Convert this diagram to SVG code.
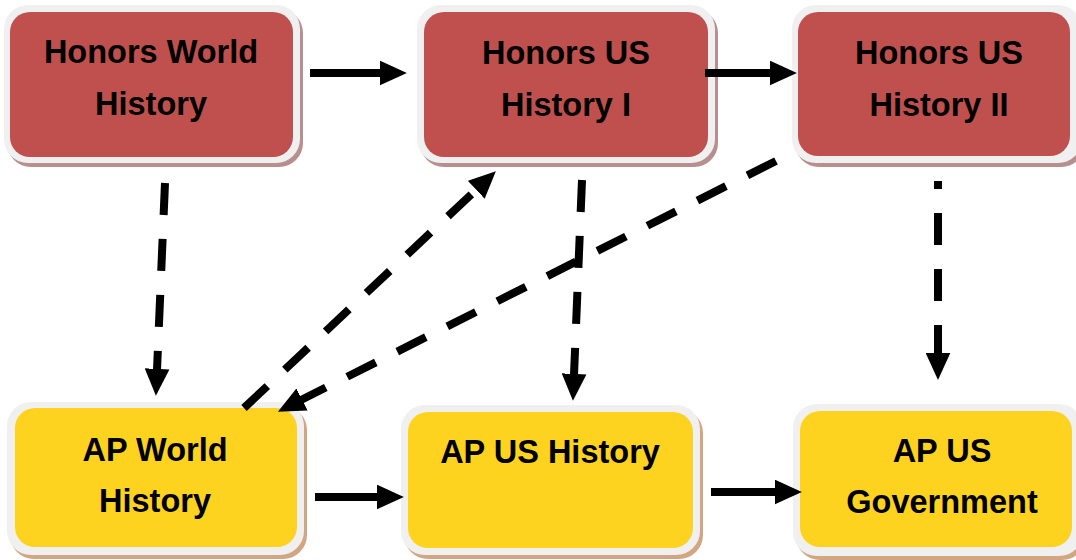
<svg xmlns="http://www.w3.org/2000/svg" width="1076" height="560" viewBox="0 0 1076 560">
<style>
.frame{fill:#f0f0f0}
.shr{fill:#b88f8f}
.shy{fill:#d2a683}
.red{fill:#c0504d}
.yel{fill:#fdd31f}
.t{font-family:"Liberation Sans",Arial,sans-serif;font-weight:bold;font-size:32.5px;fill:#000;text-anchor:middle}
.solid{stroke:#000;stroke-width:8;fill:none}
.dash{stroke:#000;stroke-width:8;fill:none;stroke-dasharray:32 24}
</style>
<defs>
<marker id="ah" markerUnits="userSpaceOnUse" markerWidth="27" markerHeight="25" viewBox="0 0 24 22" refX="1" refY="11" orient="auto">
<path d="M0,0 L24,11 L0,22 z" fill="#000"/>
</marker>
</defs>
<rect width="1076" height="560" fill="#fff"/>
<g id="honors-world">
<rect class="shr" x="7" y="9" width="296" height="158" rx="24"/>
<rect class="frame" x="4" y="5" width="296" height="158" rx="24"/>
<rect class="red" x="10" y="12" width="283" height="145" rx="20"/>
<text class="t" x="151" y="63">Honors World</text>
<text class="t" x="151" y="115">History</text>
</g>
<g id="honors-us1">
<rect class="shr" x="420" y="9" width="298" height="158" rx="24"/>
<rect class="frame" x="417" y="5" width="298" height="158" rx="24"/>
<rect class="red" x="424" y="12" width="284" height="145" rx="20"/>
<text class="t" x="566" y="64">Honors US</text>
<text class="t" x="566" y="116">History I</text>
</g>
<g id="honors-us2">
<rect class="shr" x="795" y="9" width="290" height="158" rx="24"/>
<rect class="frame" x="792" y="5" width="290" height="158" rx="24"/>
<rect class="red" x="798" y="12" width="272" height="144" rx="20"/>
<text class="t" x="939" y="64">Honors US</text>
<text class="t" x="939" y="116">History II</text>
</g>
<g id="ap-world">
<rect class="shy" x="10" y="406" width="297" height="153" rx="24"/>
<rect class="frame" x="7" y="402" width="297" height="153" rx="24"/>
<rect class="yel" x="15" y="408" width="282" height="139" rx="20"/>
<text class="t" x="155" y="461">AP World</text>
<text class="t" x="155" y="512">History</text>
</g>
<g id="ap-us-history">
<rect class="shy" x="404" y="409" width="299" height="150" rx="24"/>
<rect class="frame" x="401" y="405" width="299" height="150" rx="24"/>
<rect class="yel" x="408" y="412" width="285" height="136" rx="20"/>
<text class="t" x="550" y="463">AP US History</text>
</g>
<g id="ap-us-gov">
<rect class="shy" x="796" y="408" width="290" height="152" rx="24"/>
<rect class="frame" x="793" y="404" width="290" height="152" rx="24"/>
<rect class="yel" x="800" y="411" width="272" height="136" rx="20"/>
<text class="t" x="942" y="462">AP US</text>
<text class="t" x="942" y="513">Government</text>
</g>
<g id="connectors">
<line class="solid" x1="310" y1="73" x2="381" y2="73" marker-end="url(#ah)"/>
<line class="solid" x1="705" y1="73" x2="771" y2="73" marker-end="url(#ah)"/>
<line class="solid" x1="315" y1="497" x2="378" y2="497" marker-end="url(#ah)"/>
<line class="solid" x1="711" y1="492" x2="776" y2="492" marker-end="url(#ah)"/>
<line class="dash" x1="165" y1="183" x2="157" y2="370" marker-end="url(#ah)"/>
<line class="dash" x1="582" y1="180" x2="574" y2="375" marker-end="url(#ah)"/>
<line class="dash" x1="938" y1="181" x2="938" y2="354" style="stroke-dashoffset:24" marker-end="url(#ah)"/>
<line class="dash" x1="244" y1="408" x2="477" y2="189" marker-end="url(#ah)"/>
<line class="dash" x1="776" y1="161" x2="301" y2="400" marker-end="url(#ah)"/>
</g>
</svg>
